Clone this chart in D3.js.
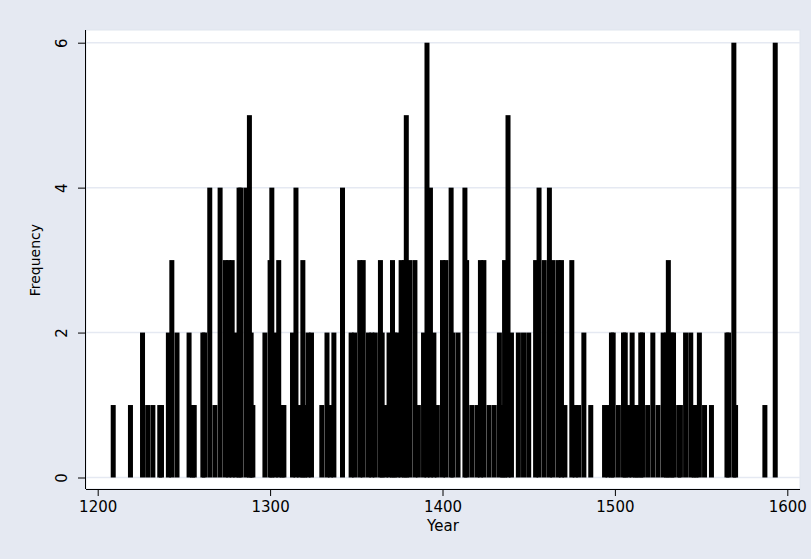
<!DOCTYPE html>
<html>
<head>
<meta charset="utf-8">
<script src="https://cdn.jsdelivr.net/npm/d3@7"></script>
<style>
    body { margin: 0; background: #e5e9f2; }
    svg { display: block; }
    text { font-family: "DejaVu Sans", sans-serif; fill: #000; }
</style>
</head>
<body>
<svg></svg>
<script>
// Year of each bar and its frequency.
var years = [
    1209, 1219, 1226, 1229, 1232, 1236, 1237, 1241, 1243, 1246,
    1253, 1255, 1256, 1261, 1262, 1265, 1268, 1271, 1274, 1276,
    1278, 1280, 1282, 1283, 1286, 1288, 1289, 1290, 1297, 1300,
    1301, 1303, 1305, 1307, 1308, 1313, 1315, 1317, 1319, 1320,
    1322, 1324, 1330, 1333, 1335, 1337, 1342, 1347, 1349, 1352,
    1354, 1357, 1359, 1361, 1364, 1365, 1367, 1369, 1371, 1372,
    1374, 1376, 1378, 1379, 1381, 1384, 1386, 1389, 1391, 1393,
    1395, 1397, 1400, 1402, 1405, 1406, 1409, 1413, 1414, 1417,
    1420, 1422, 1424, 1427, 1430, 1433, 1435, 1436, 1438, 1440,
    1444, 1447, 1450, 1454, 1456, 1459, 1462, 1464, 1467, 1469,
    1471, 1475, 1477, 1479, 1482, 1486, 1494, 1496, 1498, 1499,
    1502, 1505, 1506, 1508, 1510, 1512, 1513, 1515, 1516, 1519,
    1522, 1525, 1528, 1530, 1531, 1533, 1534, 1537, 1538, 1541,
    1544, 1546, 1547, 1549, 1552, 1556, 1565, 1566, 1569, 1570,
    1587, 1593
];
var counts = [
    1, 1, 2, 1, 1, 1, 1, 2, 3, 2,
    2, 1, 1, 2, 2, 4, 1, 4, 3, 3,
    3, 2, 4, 4, 4, 5, 2, 1, 2, 3,
    4, 2, 3, 1, 1, 2, 4, 1, 3, 1,
    2, 2, 1, 2, 1, 2, 4, 2, 2, 3,
    3, 2, 2, 2, 3, 2, 1, 2, 3, 2,
    2, 3, 3, 5, 3, 3, 1, 2, 6, 4,
    2, 1, 3, 3, 4, 2, 2, 4, 3, 1,
    1, 3, 3, 1, 1, 2, 1, 3, 5, 2,
    2, 2, 2, 3, 4, 3, 4, 3, 3, 3,
    1, 3, 1, 1, 2, 1, 1, 1, 2, 2,
    1, 2, 2, 1, 2, 1, 1, 2, 2, 1,
    2, 1, 2, 2, 3, 2, 2, 1, 1, 2,
    2, 1, 1, 2, 1, 1, 2, 2, 6, 1,
    1, 6
];

var xTicks = [1200, 1300, 1400, 1500, 1600];
var yTicks = [0, 2, 4, 6];

var data = years.map(function(y, i) {
    return { year: y, count: counts[i] };
});

var width = 811;
var height = 559;
var barWidth = 2.9; // in years

var plot = { left: 86, right: 800, top: 30, bottom: 489 };

var svg = d3.select("svg")
    .attr("width", width)
    .attr("height", height)
;

svg.append("rect")
    .attr("width", width)
    .attr("height", height)
    .style("fill", "#e5e9f2")
;

svg.append("rect")
    .attr("x", plot.left)
    .attr("y", plot.top)
    .attr("width", plot.right - plot.left)
    .attr("height", plot.bottom - plot.top)
    .style("fill", "#fff")
    .style("stroke", "#e0e5ee")
;

var xScale = d3.scaleLinear()
    .domain([1200, 1600])
    .range([97.7, 787.3])
;

var yScale = d3.scaleLinear()
    .domain([0, 6])
    .range([477.5, 42.7])
;

// Gridlines
svg.append("g")
    .selectAll("line")
    .data(yTicks)
    .enter()
    .append("line")
    .attr("x1", plot.left)
    .attr("x2", plot.right)
    .attr("y1", function(d) { return yScale(d); })
    .attr("y2", function(d) { return yScale(d); })
    .style("stroke", "#e5e9f2")
    .style("stroke-width", 1.5)
;

// Bars
svg.append("g")
    .selectAll("rect")
    .data(data)
    .enter()
    .append("rect")
    .attr("x", function(d) { return xScale(d.year - barWidth / 2); })
    .attr("width", function(d) { return xScale(d.year + barWidth / 2) - xScale(d.year - barWidth / 2); })
    .attr("y", function(d) { return yScale(d.count); })
    .attr("height", function(d) { return yScale(0) - yScale(d.count); })
    .style("fill", "#000")
;

// Axes
var xAxis = d3.axisBottom(xScale)
    .tickValues(xTicks)
    .tickSize(7)
    .tickPadding(5)
    .tickFormat(d3.format("d"))
;

var gx = svg.append("g")
    .attr("transform", "translate(0," + plot.bottom + ")")
    .call(xAxis)
;
gx.select(".domain")
    .attr("d", "M" + plot.left + ",0.5H" + plot.right)
    .style("stroke", "#000")
;
gx.selectAll("text").style("font-size", "15px").style("fill", "#000");

var yAxis = d3.axisLeft(yScale)
    .tickValues(yTicks)
    .tickSize(8)
    .tickFormat(d3.format("d"))
;

var gy = svg.append("g")
    .attr("transform", "translate(" + plot.left + ",0)")
    .call(yAxis)
;
gy.select(".domain")
    .attr("d", "M-0.5," + plot.top + "V" + plot.bottom)
    .style("stroke", "#000")
;
// y tick labels stand rotated, as in the original
gy.selectAll(".tick text")
    .style("font-size", "15px")
    .style("fill", "#000")
    .attr("text-anchor", "middle")
    .attr("x", 0)
    .attr("y", 0)
    .attr("dy", "0")
    .attr("transform", "translate(-19,0) rotate(-90)")
;

// Axis titles
svg.append("text")
    .attr("x", (plot.left + plot.right) / 2)
    .attr("y", 531)
    .attr("text-anchor", "middle")
    .style("font-size", "15px")
    .text("Year")
;

svg.append("text")
    .attr("transform", "translate(40," + (yScale(3)) + ") rotate(-90)")
    .attr("text-anchor", "middle")
    .style("font-size", "14px")
    .text("Frequency")
;
</script>
</body>
</html>
